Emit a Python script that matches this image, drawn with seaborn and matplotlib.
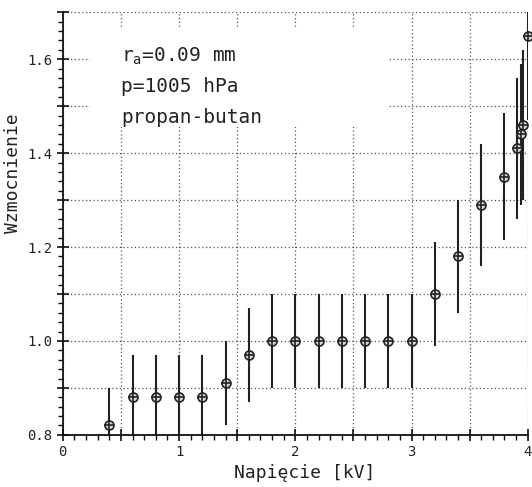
import matplotlib
matplotlib.use("Agg")
import matplotlib.pyplot as plt
import matplotlib.ticker as ticker
from matplotlib.patches import Rectangle
import seaborn as sns
import pandas as pd

# Measured points: voltage [kV], gain, half-length of error bar
voltage = [0.4, 0.6, 0.8, 1.0, 1.2, 1.4, 1.6, 1.8, 2.0, 2.2, 2.4, 2.6, 2.8, 3.0,
           3.2, 3.4, 3.6, 3.8, 3.91, 3.94, 3.96, 4.0]
gain = [0.82, 0.88, 0.88, 0.88, 0.88, 0.91, 0.97, 1.0, 1.0, 1.0, 1.0, 1.0, 1.0, 1.0,
        1.10, 1.18, 1.29, 1.35, 1.41, 1.44, 1.46, 1.65]
gain_err = [0.08, 0.09, 0.09, 0.09, 0.09, 0.09, 0.10, 0.10, 0.10, 0.10, 0.10, 0.10, 0.10, 0.10,
            0.11, 0.12, 0.13, 0.135, 0.15, 0.15, 0.16, 0.18]

info_lines = ["r$_a$=0.09 mm", "p=1005 hPa", "propan-butan"]

df = pd.DataFrame({"U": voltage, "G": gain, "err": gain_err})

sns.set_style("white")
plt.rcParams["font.family"] = ["DejaVu Sans Mono", "DejaVu Sans"]
plt.rcParams["mathtext.default"] = "regular"

fig = plt.figure(figsize=(5.32, 4.87), dpi=100)
ax = fig.add_axes([0.118, 0.107, 0.874, 0.868])

ax.set_xlim(0, 4.0)
ax.set_ylim(0.8, 1.7001)

# dotted grid every 0.5 kV and every 0.1 of gain
ax.xaxis.set_major_locator(ticker.MultipleLocator(0.5))
ax.xaxis.set_minor_locator(ticker.MultipleLocator(0.1))
ax.yaxis.set_major_locator(ticker.MultipleLocator(0.1))
ax.yaxis.set_minor_locator(ticker.MultipleLocator(0.02))
ax.xaxis.set_major_formatter(ticker.FuncFormatter(
    lambda v, _: f"{v:.0f}" if abs(v - round(v)) < 1e-6 else ""))
ax.yaxis.set_major_formatter(ticker.FuncFormatter(
    lambda v, _: f"{v:.1f}" if abs(v * 5 - round(v * 5)) < 1e-6 else ""))

ax.set_axisbelow(True)
ax.grid(True, which="major", color="#555555", linestyle=(0, (1, 2.0)), linewidth=0.9)
for side in ["top", "right"]:
    ax.spines[side].set_visible(False)
for side in ["left", "bottom"]:
    ax.spines[side].set_color("#111111")
    ax.spines[side].set_linewidth(1.3)

ax.tick_params(which="major", direction="inout", length=8, width=1.2, color="#111111",
               labelsize=10, labelcolor="#222222", left=True, bottom=True)
ax.tick_params(which="minor", direction="out", length=3.5, width=1.0, color="#111111",
               left=True, bottom=True)

# white box behind the description
ax.add_patch(Rectangle((0.23, 1.455), 2.57, 0.21, facecolor="white", edgecolor="none", zorder=1))
for i, line in enumerate(info_lines):
    ax.text(0.5, 1.606 - i * 0.065, line, fontsize=14, color="#222222",
            ha="left", va="center", zorder=4)

ax.errorbar(df["U"], df["G"], yerr=df["err"], fmt="none", ecolor="#222222",
            elinewidth=1.5, capsize=0, zorder=2)
sns.scatterplot(data=df, x="U", y="G", ax=ax, marker="o", s=42, color="#d8d8d8",
                edgecolor="#222222", linewidth=1.2, zorder=3, clip_on=False, legend=False)
sns.scatterplot(data=df, x="U", y="G", ax=ax, marker="+", s=42, color="#222222",
                linewidth=1.2, zorder=3.5, clip_on=False, legend=False)

ax.set_xlabel("Napięcie [kV]", fontsize=13, color="#222222")
ax.set_ylabel("Wzmocnienie", fontsize=13, color="#222222")
ax.yaxis.set_label_coords(-0.088, 0.62)
ax.xaxis.set_label_coords(0.52, -0.068)

fig.savefig("out.png", dpi=100)
